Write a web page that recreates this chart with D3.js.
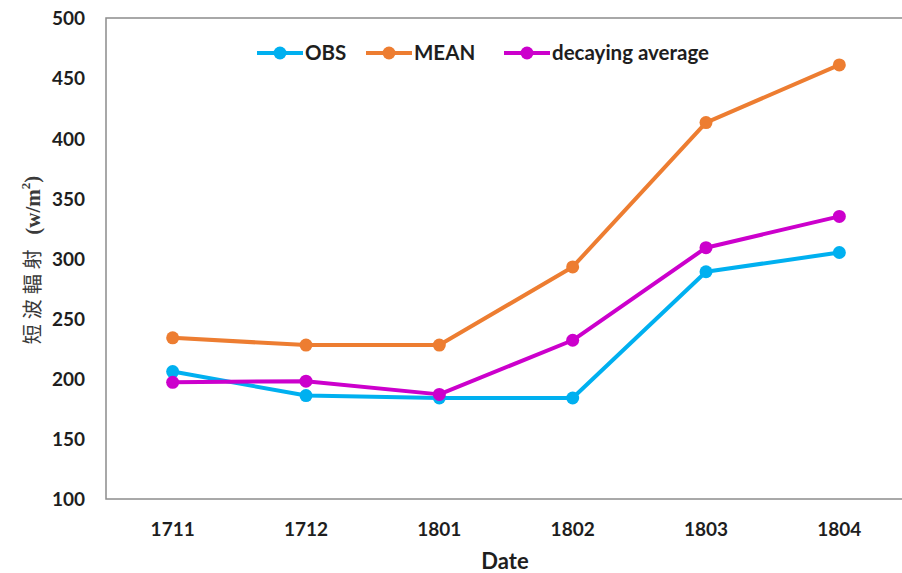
<!DOCTYPE html>
<html><head><meta charset="utf-8">
<script src="https://cdn.jsdelivr.net/npm/d3@7"></script>
<style>body{margin:0;background:#fff;}svg{display:block;}</style>
</head><body>
<svg id="c" width="902" height="573"></svg>
<script>
const categories = ["1711","1712","1801","1802","1803","1804"];
const obs = [206, 186, 184, 184, 289, 305];
const mean = [234, 228, 228, 293, 413, 461];
const decaying = [197, 198, 187, 232, 309, 335];
const yTicks = [100,150,200,250,300,350,400,450,500];
const seriesNames = ["OBS","MEAN","decaying average"];
const seriesColors = ["#00B0F0","#ED7D31","#CC00CC"];

const series = [obs, mean, decaying].map((v,i)=>({name:seriesNames[i], color:seriesColors[i], values:v}));

const svg = d3.select("#c");
const L = 106, T = 18, R = 906, B = 499;
const x = d3.scaleBand().domain(categories).range([L, R]);
const y = d3.scaleLinear().domain([100, 500]).range([B, T]);
const FONT = "Lato, Open Sans, sans-serif";
const INK = "#1e1e1e";

// plot border
svg.append("rect").attr("x", L).attr("y", T).attr("width", R - L).attr("height", B - T)
  .attr("fill", "none").attr("stroke", "#8c8c8c").attr("stroke-width", 1.5);

// y axis labels
const yAxis = d3.axisLeft(y).tickValues(yTicks).tickSize(0).tickPadding(0);
const gy = svg.append("g").attr("transform", `translate(85,0)`).call(yAxis);
gy.select(".domain").remove();
gy.selectAll("text").attr("font-family", FONT).attr("font-weight", "bold")
  .attr("font-size", 19).attr("fill", INK).attr("dy", "0.36em");

// x axis labels
const xAxis = d3.axisBottom(x).tickSize(0).tickPadding(0);
const gx = svg.append("g").attr("transform", `translate(0,${B})`).call(xAxis);
gx.select(".domain").remove();
gx.selectAll("text").attr("font-family", FONT).attr("font-weight", "bold")
  .attr("font-size", 19).attr("fill", INK).attr("y", 30).attr("dy", "0.36em");

// axis titles
svg.append("text").attr("x", 505).attr("y", 569).attr("text-anchor", "middle")
  .attr("font-family", FONT).attr("font-weight", "bold").attr("font-size", 22)
  .attr("fill", INK).text("Date");

const yt = svg.append("text").attr("transform", "translate(32,260) rotate(-90)")
  .attr("text-anchor", "middle").attr("dy", "0.36em")
  .attr("font-family", "Liberation Serif, Noto Sans CJK TC, serif").attr("font-size", 21).attr("fill", "#3a3a3a");
yt.append("tspan").attr("font-family", "Noto Sans CJK TC").attr("font-size", 20).style("letter-spacing","5px").text("短波輻射 ");
yt.append("tspan").attr("font-weight", "bold").text("(w/m");
yt.append("tspan").attr("font-weight", "bold").attr("font-size", 13).attr("dy", "-0.7em").text("2");
yt.append("tspan").attr("font-weight", "bold").attr("dy", "0.42em").text(")");

// lines
const cx = c => x(c) + x.bandwidth() / 2;
const line = d3.line().x((d,i)=>cx(categories[i])).y(d=>y(d));
series.forEach(s => {
  svg.append("path").attr("d", line(s.values)).attr("fill", "none")
    .attr("stroke", s.color).attr("stroke-width", 4).attr("stroke-linejoin", "round");
  svg.selectAll(null).data(s.values).enter().append("circle")
    .attr("cx", (d,i)=>cx(categories[i])).attr("cy", d=>y(d)).attr("r", 6.5).attr("fill", s.color);
});

// legend
const legX = [257, 366, 504];
const leg = svg.append("g");
series.forEach((s,i) => {
  const g = leg.append("g").attr("transform", `translate(${legX[i]},53)`);
  g.append("line").attr("x1", 0).attr("x2", 46).attr("stroke", s.color).attr("stroke-width", 4);
  g.append("circle").attr("cx", 23).attr("r", 6.5).attr("fill", s.color);
  g.append("text").attr("x", 48).attr("dy", "0.36em").attr("font-family", FONT)
    .attr("font-weight", "bold").attr("font-size", 20.5).attr("fill", INK).text(s.name);
});
</script>
</body></html>
